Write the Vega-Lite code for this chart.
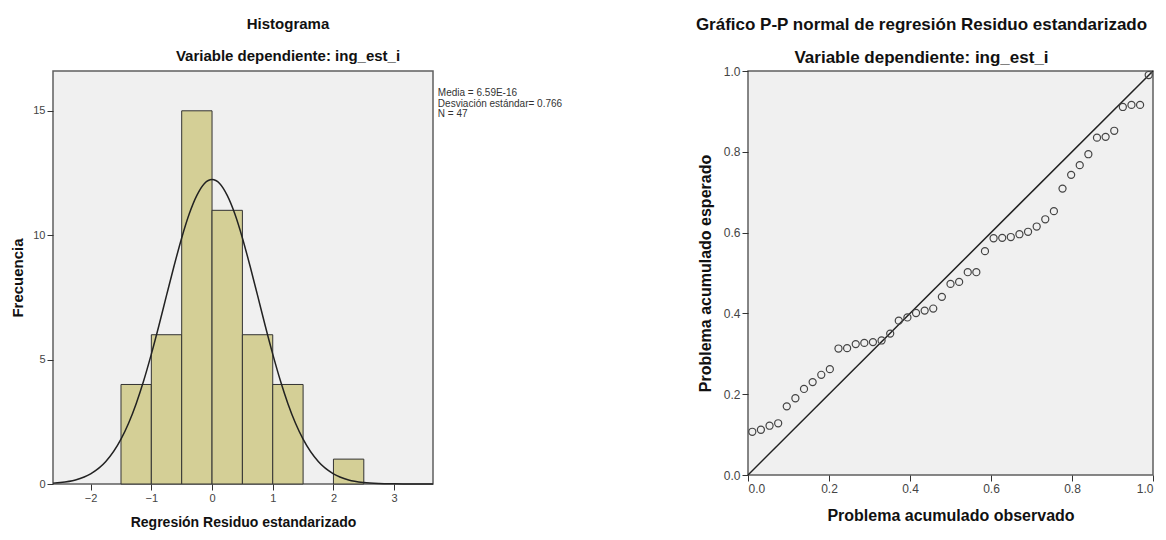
{
  "$schema": "https://vega.github.io/schema/vega-lite/v6.json",
  "background": "white",
  "padding": {"left": 10, "top": 14, "right": 5, "bottom": 5},
  "bounds": "flush",
  "spacing": 315,
  "config": {
    "font": "Liberation Sans",
    "view": {"fill": "#f0f0f0", "stroke": "#5f5f5f", "strokeWidth": 1.5},
    "axis": {
      "domain": false,
      "grid": false,
      "tickColor": "#333333",
      "tickSize": 6,
      "labelColor": "#444444",
      "labelFont": "Liberation Sans",
      "labelFontSize": 11,
      "titleFont": "Liberation Sans",
      "titleFontWeight": "bold",
      "titleColor": "#111111"
    },
    "title": {
      "anchor": "middle",
      "font": "Liberation Sans",
      "subtitleFont": "Liberation Sans",
      "fontWeight": "bold",
      "subtitleFontWeight": "bold",
      "color": "#111111",
      "subtitleColor": "#111111"
    }
  },
  "hconcat": [
    {
      "width": 380,
      "height": 413,
      "title": {
        "text": "Histograma",
        "subtitle": "Variable dependiente: ing_est_i",
        "fontSize": 15,
        "subtitleFontSize": 15,
        "subtitlePadding": 17,
        "offset": 7,
        "dx": 45
      },
      "layer": [
        {
          "data": {
            "values": [
              {"bin_start": -1.5, "bin_end": -1.0, "count": 4},
              {"bin_start": -1.0, "bin_end": -0.5, "count": 6},
              {"bin_start": -0.5, "bin_end": 0.0, "count": 15},
              {"bin_start": 0.0, "bin_end": 0.5, "count": 11},
              {"bin_start": 0.5, "bin_end": 1.0, "count": 6},
              {"bin_start": 1.0, "bin_end": 1.5, "count": 4},
              {"bin_start": 2.0, "bin_end": 2.5, "count": 1}
            ]
          },
          "mark": {"type": "rect", "fill": "#d4cf96", "stroke": "#333333", "strokeWidth": 1},
          "encoding": {
            "x": {
              "field": "bin_start",
              "type": "quantitative",
              "scale": {"domain": [-2.62, 3.64], "nice": false, "zero": false},
              "axis": {
                "values": [-2, -1, 0, 1, 2, 3],
                "format": "d",
                "title": "Regresión Residuo estandarizado",
                "titleFontSize": 14,
                "titlePadding": 12
              }
            },
            "x2": {"field": "bin_end"},
            "y": {
              "field": "count",
              "type": "quantitative",
              "scale": {"domain": [0, 16.6], "nice": false},
              "axis": {
                "values": [0, 5, 10, 15],
                "title": "Frecuencia",
                "titleFontSize": 15,
                "titlePadding": 7
              }
            }
          }
        },
        {
          "data": {
            "values": [
              {"x": -2.62, "y": 0.035},
              {"x": -2.5, "y": 0.06},
              {"x": -2.25, "y": 0.164},
              {"x": -2.0, "y": 0.405},
              {"x": -1.75, "y": 0.9},
              {"x": -1.5, "y": 1.8},
              {"x": -1.375, "y": 2.44},
              {"x": -1.25, "y": 3.23},
              {"x": -1.125, "y": 4.16},
              {"x": -1.0, "y": 5.22},
              {"x": -0.875, "y": 6.37},
              {"x": -0.75, "y": 7.58},
              {"x": -0.625, "y": 8.77},
              {"x": -0.5, "y": 9.89},
              {"x": -0.375, "y": 10.86},
              {"x": -0.25, "y": 11.6},
              {"x": -0.125, "y": 12.08},
              {"x": 0.0, "y": 12.24},
              {"x": 0.125, "y": 12.08},
              {"x": 0.25, "y": 11.6},
              {"x": 0.375, "y": 10.86},
              {"x": 0.5, "y": 9.89},
              {"x": 0.625, "y": 8.77},
              {"x": 0.75, "y": 7.58},
              {"x": 0.875, "y": 6.37},
              {"x": 1.0, "y": 5.22},
              {"x": 1.125, "y": 4.16},
              {"x": 1.25, "y": 3.23},
              {"x": 1.375, "y": 2.44},
              {"x": 1.5, "y": 1.8},
              {"x": 1.75, "y": 0.9},
              {"x": 2.0, "y": 0.405},
              {"x": 2.25, "y": 0.164},
              {"x": 2.5, "y": 0.06},
              {"x": 2.75, "y": 0.019},
              {"x": 3.0, "y": 0.006},
              {"x": 3.25, "y": 0.001},
              {"x": 3.5, "y": 0.0},
              {"x": 3.64, "y": 0.0}
            ]
          },
          "mark": {"type": "line", "color": "#222222", "strokeWidth": 1.5, "interpolate": "monotone"},
          "encoding": {
            "x": {"field": "x", "type": "quantitative"},
            "y": {"field": "y", "type": "quantitative"}
          }
        },
        {
          "data": {
            "values": [
              {"stats": "Media = 6.59E-16\nDesviación estándar= 0.766\nN = 47"}
            ]
          },
          "mark": {
            "type": "text",
            "align": "left",
            "baseline": "top",
            "lineBreak": "\n",
            "fontSize": 10,
            "lineHeight": 10.5,
            "color": "#333333"
          },
          "encoding": {
            "x": {"datum": 3.72},
            "y": {"datum": 15.9},
            "text": {"field": "stats"}
          }
        }
      ]
    },
    {
      "width": 405,
      "height": 404,
      "title": {
        "text": "Gráfico P-P normal de regresión Residuo estandarizado",
        "subtitle": "Variable dependiente: ing_est_i",
        "fontSize": 17,
        "subtitleFontSize": 17,
        "subtitlePadding": 16,
        "offset": -1.5,
        "dx": -29
      },
      "layer": [
        {
          "data": {"values": [{"p": 0}, {"p": 1}]},
          "mark": {"type": "line", "color": "#222222", "strokeWidth": 1.5},
          "encoding": {
            "x": {
              "field": "p",
              "type": "quantitative",
              "scale": {"domain": [0, 1], "nice": false},
              "axis": {
                "values": [0, 0.2, 0.4, 0.6, 0.8, 1.0],
                "format": ".1f",
                "title": "Problema acumulado observado",
                "titleFontSize": 16,
                "titlePadding": 13,
                "labelFontSize": 12
              }
            },
            "y": {
              "field": "p",
              "type": "quantitative",
              "scale": {"domain": [0, 1], "nice": false},
              "axis": {
                "values": [0, 0.2, 0.4, 0.6, 0.8, 1.0],
                "format": ".1f",
                "title": "Problema acumulado esperado",
                "titleFontSize": 16,
                "titlePadding": 10,
                "labelFontSize": 12
              }
            }
          }
        },
        {
          "data": {
            "values": [
              {"obs": 0.0106, "exp": 0.107},
              {"obs": 0.0319, "exp": 0.112},
              {"obs": 0.0532, "exp": 0.122},
              {"obs": 0.0745, "exp": 0.128},
              {"obs": 0.0957, "exp": 0.17},
              {"obs": 0.117, "exp": 0.19},
              {"obs": 0.1383, "exp": 0.213},
              {"obs": 0.1596, "exp": 0.23},
              {"obs": 0.1809, "exp": 0.248},
              {"obs": 0.2021, "exp": 0.262},
              {"obs": 0.2234, "exp": 0.313},
              {"obs": 0.2447, "exp": 0.314},
              {"obs": 0.266, "exp": 0.324},
              {"obs": 0.2872, "exp": 0.327},
              {"obs": 0.3085, "exp": 0.329},
              {"obs": 0.3298, "exp": 0.333},
              {"obs": 0.3511, "exp": 0.35},
              {"obs": 0.3723, "exp": 0.382},
              {"obs": 0.3936, "exp": 0.39},
              {"obs": 0.4149, "exp": 0.401},
              {"obs": 0.4362, "exp": 0.407},
              {"obs": 0.4574, "exp": 0.412},
              {"obs": 0.4787, "exp": 0.441},
              {"obs": 0.5, "exp": 0.473},
              {"obs": 0.5213, "exp": 0.478},
              {"obs": 0.5426, "exp": 0.502},
              {"obs": 0.5638, "exp": 0.502},
              {"obs": 0.5851, "exp": 0.554},
              {"obs": 0.6064, "exp": 0.586},
              {"obs": 0.6277, "exp": 0.587},
              {"obs": 0.6489, "exp": 0.589},
              {"obs": 0.6702, "exp": 0.596},
              {"obs": 0.6915, "exp": 0.602},
              {"obs": 0.7128, "exp": 0.615},
              {"obs": 0.734, "exp": 0.633},
              {"obs": 0.7553, "exp": 0.653},
              {"obs": 0.7766, "exp": 0.709},
              {"obs": 0.7979, "exp": 0.743},
              {"obs": 0.8191, "exp": 0.767},
              {"obs": 0.8404, "exp": 0.794},
              {"obs": 0.8617, "exp": 0.835},
              {"obs": 0.883, "exp": 0.837},
              {"obs": 0.9043, "exp": 0.852},
              {"obs": 0.9255, "exp": 0.911},
              {"obs": 0.9468, "exp": 0.916},
              {"obs": 0.9681, "exp": 0.916},
              {"obs": 0.9894, "exp": 0.99}
            ]
          },
          "mark": {"type": "point", "shape": "circle", "filled": false, "stroke": "#444444", "strokeWidth": 1.2, "size": 50, "opacity": 1},
          "encoding": {
            "x": {"field": "obs", "type": "quantitative"},
            "y": {"field": "exp", "type": "quantitative"}
          }
        }
      ]
    }
  ]
}
